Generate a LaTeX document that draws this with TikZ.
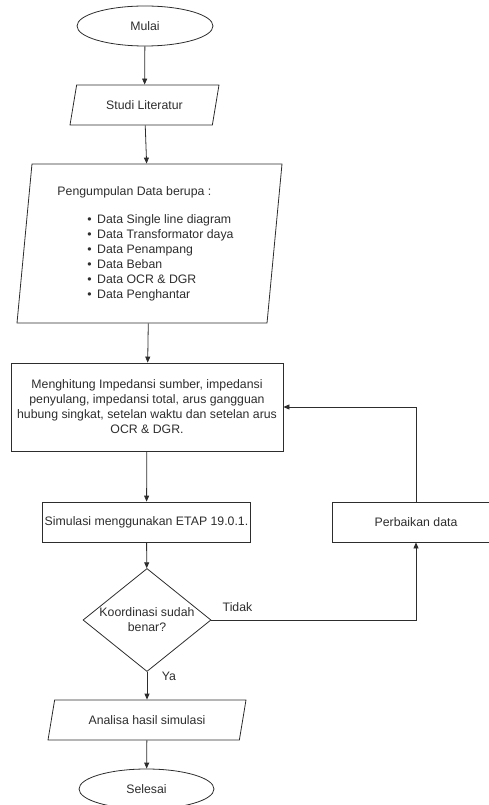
\documentclass[tikz,border=0pt]{standalone}
\usepackage{fontspec}
\setmainfont{Liberation Sans}
\usetikzlibrary{shapes.geometric,arrows.meta}
\definecolor{linegray}{RGB}{45,45,45}

\tikzset{
    base/.style={draw=linegray, line width=0.8pt, text=linegray, font=\fontsize{12.3}{15}\selectfont},
    terminal/.style={base, ellipse, minimum width=136pt, minimum height=40pt, inner sep=0pt},
    process/.style={base, rectangle, minimum height=40pt, inner sep=2pt, align=center},
    io/.style={base, trapezium, trapezium stretches body, trapezium left angle=#1, trapezium right angle=180-#1, minimum height=40pt, inner sep=2pt, align=center},
    decision/.style={base, diamond, minimum width=128pt, minimum height=97pt, inner sep=-4pt, align=center},
    flow/.style={draw=linegray, line width=0.8pt, -{Triangle[length=6pt,width=5pt]}},
    lbl/.style={text=linegray, font=\fontsize{12.3}{15}\selectfont}
}

\begin{document}
\begin{tikzpicture}[x=1pt, y=-1pt]
        \clip (0,0) rectangle (489,805);

        % Main column
        \node[terminal] (mulai) at (145,26) {Mulai};
        \node[io=63, minimum width=149pt] (studi) at (144.5,105) {Studi Literatur};
        \node[io=83, minimum width=265pt, minimum height=159pt] (kumpul) at (149.5,243.5) {%
            \begin{tabular}{@{}l@{\hspace{8pt}}}
            Pengumpulan Data berupa :\\[13pt]
            \hspace*{30pt}\textbullet\ \,Data Single line diagram\\
            \hspace*{30pt}\textbullet\ \,Data Transformator daya\\
            \hspace*{30pt}\textbullet\ \,Data Penampang\\
            \hspace*{30pt}\textbullet\ \,Data Beban\\
            \hspace*{30pt}\textbullet\ \,Data OCR \& DGR\\
            \hspace*{30pt}\textbullet\ \,Data Penghantar
            \end{tabular}};
        \node[process, minimum width=272pt, minimum height=88pt] (hitung) at (147,407) {Menghitung Impedansi sumber, impedansi\\penyulang, impedansi total, arus gangguan\\hubung singkat, setelan waktu dan setelan arus\\OCR \& DGR.};
        \node[process, minimum width=207pt] (simulasi) at (146.5,522) {Simulasi menggunakan ETAP 19.0.1.};
        \node[decision] (cek) at (147,620) {Koordinasi sudah\\benar?};
        \node[io=63, minimum width=198pt] (analisa) at (147,720) {Analisa hasil simulasi};
        \node[terminal, minimum width=135pt] (selesai) at (146.5,789) {Selesai};

        % Loop back
        \node[process, minimum width=168pt] (perbaikan) at (416,522) {Perbaikan data};

        % Connectors
        \draw[flow] (mulai) -- (studi);
        \draw[flow] (studi) -- (kumpul);
        \draw[flow] (kumpul) -- (hitung);
        \draw[flow] (hitung) -- (simulasi);
        \draw[flow] (simulasi) -- (cek);
        \draw[flow] (cek) -- (analisa);
        \node[lbl] (ya) at (169,676) {Ya};
        \draw[flow] (analisa) -- (selesai);
        \draw[flow] (cek.east) -| (perbaikan.south);
        \node[lbl] (tidak) at (237.5,607) {Tidak};
        \draw[flow] (perbaikan.north) |- (hitung.east);
    \end{tikzpicture}
\end{document}
